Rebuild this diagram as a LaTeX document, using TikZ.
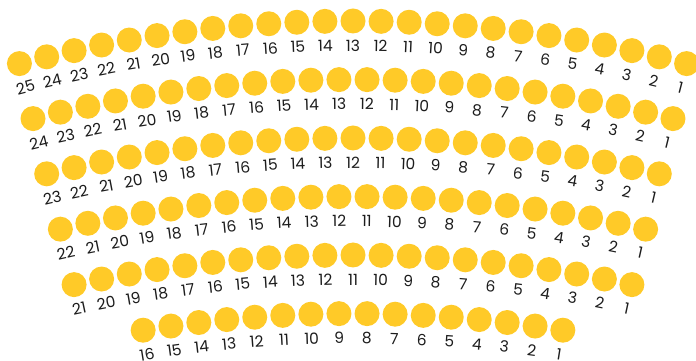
\documentclass[tikz,border=0pt]{standalone}
\usepackage{fontspec}
\setmainfont{Poppins}
\usepackage{tikz}
\definecolor{seatgold}{HTML}{FFCA28}
\definecolor{ink}{HTML}{1C1C1C}
\tikzset{
  seat/.style={circle,fill=seatgold,draw=none,minimum size=25pt,inner sep=0pt},
  seatno/.style={font=\fontsize{15.5}{15.5}\selectfont,text=ink,inner sep=0pt}
}

\begin{document}
\begin{tikzpicture}[x=1pt,y=1pt]
  \useasboundingbox (0,0) rectangle (696,361);
  % rows: row index / number of seats, all on arcs of radius 1330
  \foreach \r/\n in {1/25,2/24,3/23,4/22,5/21,6/16}{
    \pgfmathsetmacro{\cy}{-990-58.5*(\r-1)}
    \foreach \k in {1,...,\n}{
      \pgfmathsetmacro{\th}{((\n+1)/2-\k)*1.2106}
      \node[seat] (r\r s\k) at ({353+1330*sin(\th)},{\cy+1330*cos(\th)}) {};
      \node[seatno,rotate=-\th] (r\r n\k) at ({353+1305.5*sin(\th)},{\cy+1305.5*cos(\th)}) {\k};
    }
  }
\end{tikzpicture}
\end{document}
